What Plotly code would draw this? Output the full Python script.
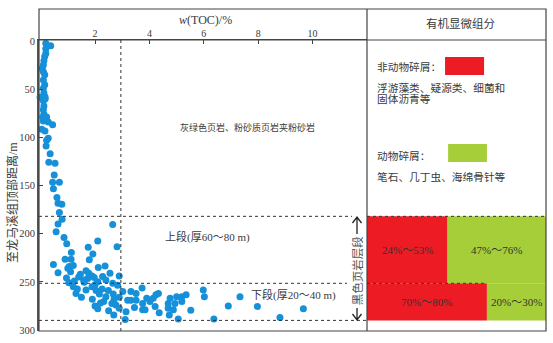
import plotly.graph_objects as go

# ---- TOC (%) versus distance below the top of the Longmaxi Formation (m) ----
toc = [0.37, 0.19, 0.19, 0.19, 0.15, 0.12, 0.10, 0.06, 0.10, 0.15, 0.10, 0.15, 0.10, 0.12,
       0.16, -0.02, 0.17, 0.10, 0.12, 0.10, 0.12, 0.08, 0.16, 0.22, 0.10, 0.28, 0.44, 0.04,
       0.16, 0.28, 0.22, 0.20, 0.35, 0.30, 0.53, 0.50, 0.44, 0.69, 0.47, 0.60, 0.64, 0.78,
       0.69, 0.79, 0.64, 0.57, 2.65,
       0.86, 2.10, 0.96, 2.81, 1.75, 1.13, 1.92, 0.90, 1.12, 1.79, 0.47, 1.05, 1.20, 2.12,
       2.37, 0.64, 1.10, 1.46, 1.67, 1.77, 1.89, 1.97, 2.28, 2.55, 2.89, 1.58, 1.73, 2.10,
       1.04, 1.24, 2.65, 2.83, 1.00, 1.40, 0.95, 2.40, 1.60, 2.00,
       1.67, 1.89, 2.26, 2.49, 1.35, 2.04, 2.16, 2.40, 2.67, 3.02, 2.89, 2.32, 2.62, 2.77,
       2.89, 2.69, 3.14, 3.11, 3.32, 3.51, 3.73, 3.32, 3.51, 3.20, 3.45, 3.75, 3.75, 3.84,
       3.90, 4.02, 4.14, 4.24, 4.33, 4.21, 4.36, 4.69, 4.76, 4.69, 4.73, 4.94, 5.00, 5.19,
       5.19, 5.35, 4.88, 5.06, 5.52, 5.98, 6.02, 6.37, 6.90, 7.33, 7.97, 8.80, 9.66,
       1.30, 1.50, 1.90, 2.00, 2.20, 2.50, 2.70, 2.10, 1.20]
depth = [5.0, 2.5, 8.0, 13.0, 16.0, 20.5, 25.0, 28.5, 32.0, 35.0, 40.5, 45.5, 49.0, 54.0,
         58.0, 58.5, 60.0, 62.0, 67.5, 71.5, 76.0, 79.0, 80.5, 79.0, 83.0, 84.0, 87.0, 91.5,
         93.5, 101.0, 103.0, 109.0, 117.0, 126.0, 127.0, 139.0, 146.5, 146.5, 153.5, 162.5,
         168.5, 169.5, 178.0, 185.0, 190.0, 198.0, 190.5,
         204.0, 207.5, 210.5, 213.5, 214.0, 219.5, 221.0, 226.5, 226.5, 227.0, 232.0, 234.0,
         233.0, 235.0, 233.5, 240.5, 239.5, 242.0, 238.5, 241.0, 244.0, 245.5, 244.5, 241.0,
         244.0, 248.0, 246.5, 250.0, 251.0, 249.0, 251.5, 253.5, 236.0, 245.0, 246.0, 248.0,
         250.5, 253.0,
         258.5, 255.0, 257.5, 259.0, 257.5, 259.0, 262.5, 265.5, 262.5, 260.0, 266.0, 270.5,
         272.5, 274.0, 277.5, 284.5, 281.0, 289.0, 260.0, 262.0, 256.5, 269.0, 269.0, 269.0,
         276.5, 279.0, 272.5, 279.0, 267.0, 270.5, 267.0, 263.5, 262.0, 275.5, 282.0, 272.5,
         267.0, 277.5, 284.5, 272.5, 265.5, 270.5, 265.5, 263.5, 279.0, 288.5, 279.5, 258.5,
         265.5, 288.5, 275.0, 265.5, 275.5, 287.0, 278.0,
         262.0, 266.0, 268.0, 275.0, 272.0, 280.0, 268.0, 278.0, 255.0]

x_ticks = [2, 4, 6, 8, 10]
y_ticks = [0, 50, 100, 150, 200, 250, 300]
toc_cutoff = 2.95

# black-shale interval: upper and lower members (m)
seg_top = [182.0, 251.5]
seg_base = [251.5, 290.0]
member_labels = ["上段(厚60～80 m)", "下段(厚20～40 m)"]

# organic maceral composition of each member (bar split, %)
non_animal_share = [45, 67]
animal_share = [55, 33]
non_animal_label = ["24%～53%", "70%～80%"]
animal_label = ["47%～76%", "20%～30%"]

RED = "#ED1C24"
GREEN = "#A6CE39"
BLUE = "#1690D8"
TXT = "#3a3a3a"
SERIF = "Liberation Serif, Noto Sans CJK SC, serif"

W, H = 553, 343
ML, MR, MT, MB = 39, 7, 40, 12
PW = W - ML - MR
PH = H - MT - MB
split = (367 - ML) / PW
frame_top = 1 + (MT - 9) / PH


def px_x(px):
    return (px - ML) / PW


def px_y(py):
    return 1 - (py - MT) / PH


fig = go.Figure()

fig.add_trace(go.Scatter(
    x=toc, y=depth, mode="markers", xaxis="x", yaxis="y",
    marker=dict(color=BLUE, size=7, line=dict(width=0)),
    cliponaxis=False, showlegend=False, hoverinfo="skip"))

seg_center = [(a + b) / 2 for a, b in zip(seg_top, seg_base)]
seg_thick = [b - a for a, b in zip(seg_top, seg_base)]

fig.add_trace(go.Bar(
    orientation="h", y=seg_center, x=non_animal_share, width=seg_thick, base=0,
    marker=dict(color=RED, line=dict(width=0)), xaxis="x2", yaxis="y",
    showlegend=False, hoverinfo="skip"))
fig.add_trace(go.Bar(
    orientation="h", y=seg_center, x=animal_share, width=seg_thick, base=non_animal_share,
    marker=dict(color=GREEN, line=dict(width=0)), xaxis="x2", yaxis="y",
    showlegend=False, hoverinfo="skip"))

shapes = []
# outer frame, header line and panel divider
shapes.append(dict(type="rect", xref="paper", yref="paper", x0=0, x1=1, y0=0, y1=frame_top,
                   line=dict(color="#444", width=1.2)))
shapes.append(dict(type="line", xref="paper", yref="paper", x0=0, x1=1, y0=1, y1=1,
                   line=dict(color="#444", width=1.2)))
shapes.append(dict(type="line", xref="paper", yref="paper", x0=split, x1=split, y0=0,
                   y1=frame_top, line=dict(color="#444", width=1.2)))

dot = dict(color="#333", width=1, dash="dot")
# TOC cutoff
shapes.append(dict(type="line", xref="x", yref="y", x0=toc_cutoff, x1=toc_cutoff,
                   y0=-1, y1=303, line=dot))
# member boundaries
shapes.append(dict(type="line", xref="paper", yref="y", x0=0, x1=px_x(352),
                   y0=seg_top[0], y1=seg_top[0], line=dot))
shapes.append(dict(type="line", xref="paper", yref="y", x0=split, x1=1,
                   y0=seg_top[0], y1=seg_top[0], line=dot))
shapes.append(dict(type="line", xref="paper", yref="y", x0=0, x1=px_x(347),
                   y0=seg_top[1], y1=seg_top[1], line=dot))
shapes.append(dict(type="line", xref="x2", yref="y", x0=0, x1=non_animal_share[1],
                   y0=seg_top[1], y1=seg_top[1], line=dot))
shapes.append(dict(type="line", xref="paper", yref="y", x0=0, x1=split,
                   y0=seg_base[1], y1=seg_base[1], line=dot))

# double arrow marking the black-shale interval
ax = 357


def arrow_path(tip, tail, arms):
    return (f"M {px_x(ax)} {px_y(tail)} L {px_x(ax)} {px_y(tip)} "
            f"M {px_x(ax - 4.5)} {px_y(arms)} L {px_x(ax)} {px_y(tip)} "
            f"L {px_x(ax + 4.5)} {px_y(arms)}")


shapes.append(dict(type="path", xref="paper", yref="paper", path=arrow_path(217, 234, 223),
                   line=dict(color="#222", width=1.3)))
shapes.append(dict(type="path", xref="paper", yref="paper", path=arrow_path(320, 308, 314),
                   line=dict(color="#222", width=1.3)))

# legend swatches
shapes.append(dict(type="rect", xref="x2", yref="y", x0=43.6, x1=65.4, y0=16.6, y1=35.3,
                   fillcolor=RED, line=dict(width=0)))
shapes.append(dict(type="rect", xref="x2", yref="y", x0=45.3, x1=67.0, y0=107.0, y1=125.6,
                   fillcolor=GREEN, line=dict(width=0)))

C = dict(xanchor="center", yanchor="middle", showarrow=False)
ann = []
ann.append(dict(text="<i>w</i>(TOC)/%", xref="paper", yref="paper", x=px_x(205), y=px_y(19.5),
                font=dict(family=SERIF, size=12, color=TXT), **C))
ann.append(dict(text="至龙马溪组顶部距离/m", xref="paper", yref="paper", x=px_x(12),
                y=px_y(203), textangle=-90,
                font=dict(family=SERIF, size=12, color=TXT), **C))
ann.append(dict(text="灰绿色页岩、粉砂质页岩夹粉砂岩", xref="x", yref="y", x=7.59, y=89.3,
                font=dict(family=SERIF, size=9, color=TXT), **C))
ann.append(dict(text=member_labels[0], xref="x", yref="y", x=6.12, y=203.4,
                font=dict(family=SERIF, size=11, color=TXT), **C))
ann.append(dict(text=member_labels[1], xref="x", yref="y", x=9.28, y=263.6,
                font=dict(family=SERIF, size=11, color=TXT), **C))
ann.append(dict(text="黑色页岩层段", xref="paper", yref="y", x=px_x(ax),
                y=(seg_top[0] + seg_base[1]) / 2 + 3, textangle=-90,
                bgcolor="white", borderpad=0,
                font=dict(family=SERIF, size=11.5, color="#555"), **C))

ann.append(dict(text="有机显微组分", xref="x2", yref="paper", x=52.5, y=px_y(24),
                font=dict(family=SERIF, size=11.5, color=TXT), **C))
for txt, yy in [("非动物碎屑：", 26.7), ("浮游藻类、疑源类、细菌和", 48.8), ("固体沥青等", 60.2),
                ("动物碎屑：", 119.0), ("笔石、几丁虫、海绵骨针等", 140.9)]:
    ann.append(dict(text=txt, xref="x2", yref="y", x=4.5, y=yy, xanchor="left",
                    yanchor="middle", showarrow=False,
                    font=dict(family=SERIF, size=10.7, color=TXT)))

for i in range(2):
    ann.append(dict(text=non_animal_label[i], xref="x2", yref="y",
                    x=non_animal_share[i] / 2, y=seg_center[i],
                    font=dict(family=SERIF, size=11, color="#333"), **C))
    ann.append(dict(text=animal_label[i], xref="x2", yref="y",
                    x=non_animal_share[i] + animal_share[i] / 2, y=seg_center[i],
                    font=dict(family=SERIF, size=11, color="#333"), **C))

fig.update_layout(
    width=W, height=H, margin=dict(l=ML, r=MR, t=MT, b=MB),
    paper_bgcolor="white", plot_bgcolor="white", showlegend=False,
    barmode="overlay",
    xaxis=dict(domain=[0, split], range=[-0.06, 12.0], side="top", anchor="y",
               tickvals=x_ticks, ticks="inside", ticklen=4, tickcolor="#444",
               ticklabelstandoff=-2,
               showline=True, linecolor="#444", linewidth=1.2, showgrid=False,
               zeroline=False, tickfont=dict(family=SERIF, size=10, color=TXT)),
    xaxis2=dict(domain=[split, 1], range=[0, 100], anchor="y", visible=False),
    yaxis=dict(range=[301, -1], anchor="x", tickvals=y_ticks, ticks="inside", ticklen=4,
               tickcolor="#444", showline=True, linecolor="#555", linewidth=2,
               showgrid=False, zeroline=False,
               tickfont=dict(family=SERIF, size=10.5, color=TXT)),
    shapes=shapes, annotations=ann,
)

fig.write_html("out.html")
